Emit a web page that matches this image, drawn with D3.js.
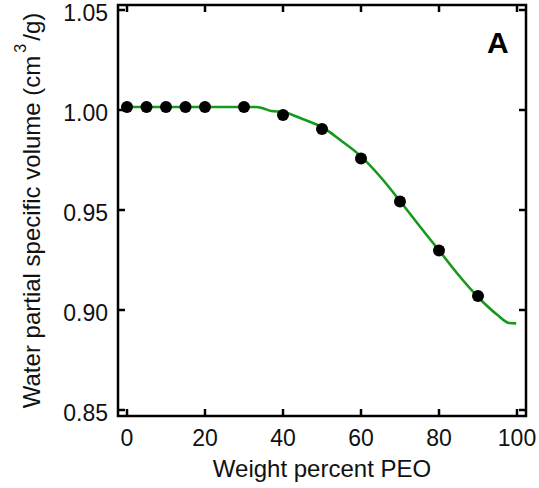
<!DOCTYPE html>
<html>
<head>
<meta charset="UTF-8">
<script src="https://d3js.org/d3.v7.min.js"></script>
<style>
  body { margin: 0; background: #fff; }
  svg { font-family: "Liberation Sans", Arial, sans-serif; }
  .tick-label { font-size: 23px; fill: #111; }
  .axis-title { font-size: 24px; fill: #111; }
</style>
</head>
<body>
<svg id="chart" width="539" height="488"></svg>
<script>
// measured points
const pointX = [0, 5, 10, 15, 20, 30, 40, 50, 60, 70, 80, 90];
const pointY = [1.0015, 1.0015, 1.0015, 1.0015, 1.0015, 1.0015, 0.9975, 0.9905, 0.9757, 0.9542, 0.9297, 0.907];

// fitted curve
const curveX = [0, 10, 20, 30, 33, 35, 37, 40, 45, 50, 55, 60, 65, 70, 75, 80, 85, 90, 95, 98, 99.8];
const curveY = [1.0015, 1.0015, 1.0015, 1.0015, 1.0015, 1.0008, 0.9995, 0.999, 0.9955, 0.9915, 0.9845, 0.9768, 0.9665, 0.9545, 0.942, 0.9298, 0.9175, 0.9065, 0.8975, 0.8935, 0.8933];

const xTicks = [0, 20, 40, 60, 80, 100];
const yTicks = [0.85, 0.90, 0.95, 1.00, 1.05];

const frameL = 118, frameR = 526, frameT = 5, frameB = 416;

const svg = d3.select("#chart");

const x = d3.scaleLinear().domain([0, 100]).range([127, 517]);
const y = d3.scaleLinear().domain([0.85, 1.05]).range([410, 10]);

// frame
svg.append("rect")
    .attr("x", frameL).attr("y", frameT)
    .attr("width", frameR - frameL).attr("height", frameB - frameT)
    .attr("fill", "none").attr("stroke", "#000").attr("stroke-width", 2.5);

const tickLen = 7;
const ticks = svg.append("g").attr("stroke", "#000").attr("stroke-width", 2.5);

xTicks.forEach(t => {
    ticks.append("line").attr("x1", x(t)).attr("x2", x(t)).attr("y1", frameB).attr("y2", frameB - tickLen);
    ticks.append("line").attr("x1", x(t)).attr("x2", x(t)).attr("y1", frameT).attr("y2", frameT + tickLen);
});
yTicks.forEach(t => {
    ticks.append("line").attr("x1", frameL).attr("x2", frameL + tickLen).attr("y1", y(t)).attr("y2", y(t));
    ticks.append("line").attr("x1", frameR).attr("x2", frameR - tickLen).attr("y1", y(t)).attr("y2", y(t));
});

svg.selectAll(".xl").data(xTicks).enter().append("text")
    .attr("class", "tick-label")
    .attr("x", d => x(d)).attr("y", 446)
    .attr("text-anchor", "middle")
    .text(d => d);

svg.selectAll(".yl").data(yTicks).enter().append("text")
    .attr("class", "tick-label")
    .attr("x", 108).attr("y", d => y(d) + 11)
    .attr("text-anchor", "end")
    .text(d => d.toFixed(2));

// curve
const curve = curveX.map((v, i) => [v, curveY[i]]);
svg.append("path")
    .datum(curve)
    .attr("fill", "none")
    .attr("stroke", "#15991a")
    .attr("stroke-width", 2.6)
    .attr("d", d3.line().x(d => x(d[0])).y(d => y(d[1])).curve(d3.curveMonotoneX));

// points
svg.selectAll(".pt").data(pointX).enter().append("circle")
    .attr("cx", d => x(d))
    .attr("cy", (d, i) => y(pointY[i]))
    .attr("r", 6)
    .attr("fill", "#000");

// titles
svg.append("text")
    .attr("class", "axis-title")
    .attr("x", (frameL + frameR) / 2).attr("y", 477)
    .attr("text-anchor", "middle")
    .text("Weight percent PEO");

const yt = svg.append("text")
    .attr("class", "axis-title")
    .attr("font-size", 25)
    .attr("transform", `translate(40, ${(frameT + frameB) / 2}) rotate(-90)`)
    .attr("text-anchor", "middle");
yt.append("tspan").text("Water partial specific volume (cm");
yt.append("tspan").attr("font-size", 16).attr("dx", 3).attr("dy", -14).text("3");
yt.append("tspan").attr("dx", 3).attr("dy", 14).text("/g)");

svg.append("text")
    .attr("x", 487).attr("y", 53)
    .attr("font-size", 30).attr("font-weight", "bold")
    .text("A");
</script>
</body>
</html>
